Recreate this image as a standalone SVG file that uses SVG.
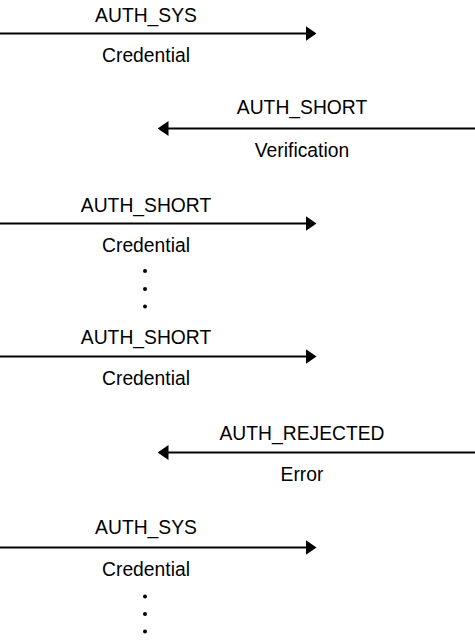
<svg xmlns="http://www.w3.org/2000/svg" width="475" height="643" viewBox="0 0 475 643">
<defs>
<marker id="ah" viewBox="0 0 11 15" markerWidth="11" markerHeight="15" refX="0.5" refY="7.5" orient="auto" markerUnits="userSpaceOnUse">
<path d="M0,0 L11,7.5 L0,15 Z" fill="#000"/>
</marker>
<style>
.lbl{font-family:"Liberation Sans",Arial,sans-serif;font-size:19.3px;fill:#000;text-anchor:middle}
.ln{stroke:#000;stroke-width:2;fill:none;marker-end:url(#ah)}
.dot{fill:#000}
</style>
</defs>
<rect width="475" height="643" fill="#fff"/>
<g id="connectors">
<line class="ln" x1="0" y1="33.5" x2="306" y2="33.5"/>
<line class="ln" x1="475" y1="128.5" x2="168" y2="128.5"/>
<line class="ln" x1="0" y1="223.5" x2="306" y2="223.5"/>
<line class="ln" x1="0" y1="356.5" x2="306" y2="356.5"/>
<line class="ln" x1="475" y1="452.5" x2="168" y2="452.5"/>
<line class="ln" x1="0" y1="547.5" x2="306" y2="547.5"/>
</g>
<g id="msg1">
<text class="lbl" x="146" y="21.5">AUTH_SYS</text>
<text class="lbl" x="146" y="61.5">Credential</text>
</g>
<g id="msg2">
<text class="lbl" x="302" y="114">AUTH_SHORT</text>
<text class="lbl" x="302" y="157">Verification</text>
</g>
<g id="msg3">
<text class="lbl" x="146" y="211.5">AUTH_SHORT</text>
<text class="lbl" x="146" y="251.5">Credential</text>
</g>
<g id="dots1">
<circle class="dot" cx="145" cy="271" r="2"/>
<circle class="dot" cx="145" cy="289" r="2"/>
<circle class="dot" cx="145" cy="306.5" r="2"/>
</g>
<g id="msg4">
<text class="lbl" x="146" y="344">AUTH_SHORT</text>
<text class="lbl" x="146" y="385">Credential</text>
</g>
<g id="msg5">
<text class="lbl" x="302" y="439.5">AUTH_REJECTED</text>
<text class="lbl" x="302" y="480.5">Error</text>
</g>
<g id="msg6">
<text class="lbl" x="146" y="534">AUTH_SYS</text>
<text class="lbl" x="146" y="576">Credential</text>
</g>
<g id="dots2">
<circle class="dot" cx="145" cy="596.5" r="2"/>
<circle class="dot" cx="145" cy="614" r="2"/>
<circle class="dot" cx="145" cy="631.5" r="2"/>
</g>
</svg>
